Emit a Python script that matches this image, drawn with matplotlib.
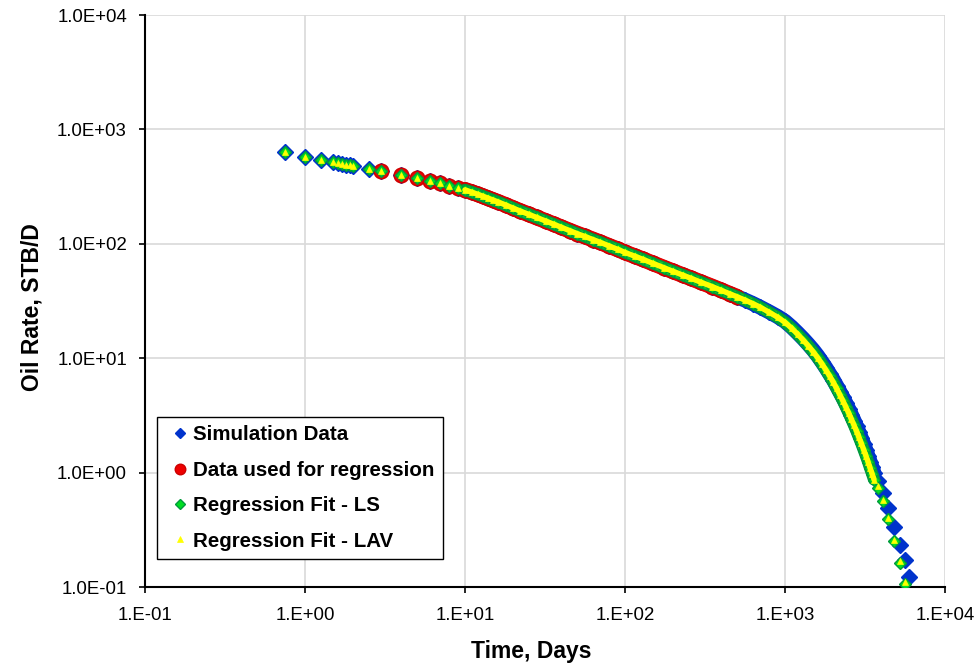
import numpy as np
import matplotlib.pyplot as plt
from matplotlib.ticker import FixedLocator, NullLocator, FuncFormatter

plt.rcParams['font.family'] = ['Liberation Sans', 'DejaVu Sans']

# simulation output: time (days) and oil rate (STB/D)
sim_t = np.array([
    0.75, 1, 1.25, 1.5, 1.6, 1.7, 1.8, 1.9, 2, 2.5, 3, 4, 5, 6, 7, 8, 9,
    10, 11, 12, 13, 14, 15, 16, 18, 20, 22, 25, 28, 32, 36, 40, 45, 50, 56, 63, 70, 80, 90,
    100, 115, 130, 150, 175, 200, 230, 260, 300, 350, 400, 450, 500, 560, 630, 700, 800, 900,
    1000, 1100, 1200, 1300, 1400, 1500, 1600, 1700, 1800, 1900, 2000, 2100, 2200, 2300,
    2400, 2500, 2600, 2700, 2800, 2900, 3000, 3100, 3200, 3300, 3400, 3500, 3600,
    3800, 4100, 4400, 4800, 5200, 5600, 5950])
sim_q = np.array([
    630, 578, 541, 515, 506, 498, 491, 484, 477, 451, 430, 400, 377, 355, 340, 323, 308,
    296, 283, 271, 260, 250, 241, 233, 218, 205, 194, 181, 170, 158, 148, 139.5, 130.5, 123,
    116, 109, 103, 95.5, 89.5,
    84, 78, 73, 67.3, 61.8, 57.4, 53.2, 49.8, 46, 42.3, 39.2, 36.6, 34.5, 32.3, 30, 27.9,
    25.3, 23.1,
    21.0, 18.7, 16.6, 14.8, 13.2, 11.8, 10.5, 9.3, 8.25, 7.3, 6.5, 5.75, 5.1, 4.55,
    4.05, 3.6, 3.2, 2.85, 2.53, 2.25, 2.0, 1.78, 1.58, 1.4, 1.25, 1.11, 0.99,
    0.84, 0.66, 0.49, 0.335, 0.235, 0.172, 0.122])

# fitted rates at the same times
ls_q = np.array([
    630, 578, 541, 515, 506, 498, 491, 484, 477, 451, 430, 400, 377, 355, 340, 323, 308,
    296, 283, 271, 260, 250, 241, 233, 218, 205, 194, 181, 170, 158, 148, 139.5, 130.5, 123,
    116, 109, 103, 95.5, 89.5,
    84, 78, 73, 67.3, 61.8, 57.4, 53.2, 49.8, 46, 42.3, 39.2, 36.6, 34.5, 32.3, 30, 27.9,
    25.1, 22.8,
    20.6, 18.3, 16.2, 14.4, 12.8, 11.4, 10.1, 8.95, 7.9, 7.0, 6.2, 5.45, 4.8, 4.25,
    3.75, 3.32, 2.93, 2.6, 2.3, 2.03, 1.8, 1.59, 1.41, 1.25, 1.1, 0.98, 0.87,
    0.74, 0.56, 0.39, 0.25, 0.163, 0.106, 0.075])
lav_q = np.array([
    630, 578, 541, 515, 506, 498, 491, 484, 477, 451, 430, 400, 377, 355, 340, 323, 308,
    296, 283, 271, 260, 250, 241, 233, 218, 205, 194, 181, 170, 158, 148, 139.5, 130.5, 123,
    116, 109, 103, 95.5, 89.5,
    84, 78, 73, 67.3, 61.8, 57.4, 53.2, 49.8, 46, 42.3, 39.2, 36.6, 34.5, 32.3, 30, 27.9,
    25.1, 22.8,
    20.6, 18.3, 16.2, 14.4, 12.8, 11.4, 10.1, 8.95, 7.9, 7.0, 6.2, 5.45, 4.8, 4.25,
    3.75, 3.32, 2.93, 2.6, 2.3, 2.03, 1.8, 1.59, 1.41, 1.25, 1.1, 0.98, 0.87,
    0.76, 0.58, 0.40, 0.26, 0.17, 0.11, 0.078])

# window of simulation points used for the regression
reg_from, reg_to = 3, 500
# daily output section where the markers merge into a solid band
band_from, band_to = 10, 3600

reg = (sim_t >= reg_from) & (sim_t <= reg_to)
band = (sim_t >= band_from) & (sim_t <= band_to)
reg_band = reg & band

BLUE = '#0033cc'
RED = '#ee0000'
GREEN = '#00dd22'
DKGREEN = '#009a3c'
YELLOW = '#ffff00'

fig = plt.figure(figsize=(9.77, 6.66), dpi=100)
ax = fig.add_axes([145 / 977, 79 / 666, 800 / 977, 572 / 666])
ax.set_xscale('log')
ax.set_yscale('log')

# simulation data
ax.plot(sim_t[band], sim_q[band], color=BLUE, lw=10.8, solid_capstyle='round', zorder=2)
ax.plot(sim_t, sim_q, 'D', ms=8, mfc=BLUE, mec=BLUE, mew=1, zorder=2.1,
        label='Simulation Data')

# regression subset
ax.plot(sim_t[reg_band], sim_q[reg_band], color=RED, lw=11.4, solid_capstyle='round', zorder=3)
ax.plot(sim_t[reg], sim_q[reg], 'o', ms=10.6, mfc=RED, mec='#cc0000', mew=1, zorder=3.1,
        label='Data used for regression')

# least squares fit
ax.plot(sim_t[band], ls_q[band], color=DKGREEN, lw=8.8, solid_capstyle='round', zorder=4)
ax.plot(sim_t[band], ls_q[band], color='#10c830', lw=6.8, solid_capstyle='round', zorder=4)
ax.plot(sim_t, ls_q, 'D', ms=5.8, mfc=GREEN, mec=DKGREEN, mew=1, zorder=4.1,
        label='Regression Fit - LS')

# least absolute value fit
ax.plot(sim_t[band], lav_q[band], color=YELLOW, lw=3.9, solid_capstyle='round', zorder=5)
ax.plot(sim_t, lav_q, '^', ms=4, mfc=YELLOW, mec=YELLOW, mew=0.5, zorder=5.1,
        label='Regression Fit - LAV')

ax.set_xlim(0.1, 1e4)
ax.set_ylim(0.1, 1e4)

decades = [0.1, 1, 10, 100, 1000, 10000]
ax.xaxis.set_major_locator(FixedLocator(decades))
ax.yaxis.set_major_locator(FixedLocator(decades))
ax.xaxis.set_minor_locator(NullLocator())
ax.yaxis.set_minor_locator(NullLocator())
ax.xaxis.set_major_formatter(FuncFormatter(lambda v, p: '1.E%+03d' % round(np.log10(v))))
ax.yaxis.set_major_formatter(FuncFormatter(lambda v, p: '1.0E%+03d' % round(np.log10(v))))

ax.grid(True, color='#d9d9d9', lw=1.2)
ax.set_axisbelow(True)
for side in ('top', 'right'):
    ax.spines[side].set_visible(False)
for side in ('left', 'bottom'):
    ax.spines[side].set_linewidth(1.5)
ax.tick_params(axis='both', direction='out', length=4.5, width=1.2, labelsize=13.4,
               colors='black')
ax.tick_params(axis='x', pad=10)
ax.tick_params(axis='y', pad=8.5)

ax.set_xlabel('Time, Days', fontsize=16.5, fontweight='bold')
ax.set_ylabel('Oil Rate, STB/D', fontsize=16.5, fontweight='bold')
ax.xaxis.label.set_va('center')
ax.yaxis.label.set_va('center')
ax.xaxis.set_label_coords(0.4825, -0.1136)
ax.yaxis.set_label_coords(-0.141, 0.49)

leg = ax.legend(loc='lower left', bbox_to_anchor=(0.015, 0.0485), borderaxespad=0,
                prop={'weight': 'bold', 'size': 14.8}, frameon=True, fancybox=False,
                edgecolor='black', framealpha=1, borderpad=0.42, handlelength=1.35,
                handletextpad=0.0, labelspacing=0.8)
leg.get_frame().set_linewidth(1.0)
for h, s in zip(leg.legend_handles, [5.2, 7.6, 5.2, 4.0]):
    h.set_markersize(s)

fig.savefig('out.png', dpi=100)
